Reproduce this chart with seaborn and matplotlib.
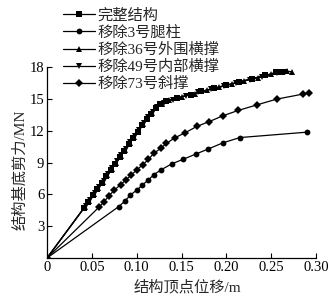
import matplotlib
matplotlib.use("Agg")
import matplotlib.pyplot as plt
import seaborn as sns
import pandas as pd

# ---- data ----
labels = ["完整结构", "移除3号腿柱", "移除36号外围横撑", "移除49号内部横撑", "移除73号斜撑"]

x_full = [0, 0.041, 0.046, 0.051, 0.056, 0.061, 0.066, 0.071, 0.076, 0.081, 0.086, 0.091,
          0.096, 0.101, 0.106, 0.111, 0.116, 0.121, 0.126, 0.133, 0.145, 0.160, 0.172,
          0.186, 0.200, 0.214, 0.228, 0.243, 0.255, 0.262]
y_full = [0, 4.7, 5.3, 5.9, 6.5, 7.1, 7.7, 8.3, 8.9, 9.5, 10.1, 10.7,
          11.3, 11.9, 12.5, 13.1, 13.6, 14.1, 14.5, 14.8, 15.1, 15.4, 15.7,
          16.0, 16.3, 16.6, 16.9, 17.2, 17.5, 17.55]

x_leg3 = [0, 0.080, 0.087, 0.093, 0.100, 0.106, 0.113, 0.119, 0.127, 0.139, 0.152,
          0.166, 0.180, 0.196, 0.215, 0.290]
y_leg3 = [0, 4.85, 5.38, 5.94, 6.4, 6.85, 7.36, 7.85, 8.3, 8.87, 9.31,
          9.8, 10.28, 10.85, 11.35, 11.86]

x_br36 = [0, 0.042, 0.047, 0.052, 0.057, 0.062, 0.067, 0.072, 0.077, 0.082, 0.087, 0.092,
          0.097, 0.102, 0.107, 0.112, 0.117, 0.122, 0.128, 0.136, 0.150, 0.165, 0.178,
          0.192, 0.206, 0.220, 0.235, 0.250, 0.262, 0.268, 0.273]
y_br36 = [0, 4.8, 5.4, 6.0, 6.6, 7.2, 7.8, 8.4, 9.0, 9.6, 10.2, 10.8,
          11.4, 12.0, 12.6, 13.2, 13.7, 14.15, 14.55, 14.85, 15.2, 15.5, 15.8,
          16.1, 16.4, 16.7, 17.0, 17.3, 17.55, 17.6, 17.55]

x_br49 = [0, 0.043, 0.048, 0.053, 0.058, 0.063, 0.068, 0.073, 0.078, 0.083, 0.088, 0.093,
          0.098, 0.103, 0.108, 0.113, 0.118, 0.123, 0.130, 0.140, 0.155, 0.168, 0.183,
          0.197, 0.211, 0.226, 0.240, 0.256, 0.265]
y_br49 = [0, 4.9, 5.5, 6.1, 6.7, 7.3, 7.9, 8.5, 9.1, 9.7, 10.3, 10.9,
          11.5, 12.1, 12.7, 13.3, 13.8, 14.2, 14.6, 14.9, 15.3, 15.6, 15.9,
          16.2, 16.5, 16.8, 17.1, 17.45, 17.5]

x_br73 = [0, 0.058, 0.063, 0.069, 0.075, 0.082, 0.088, 0.094, 0.100, 0.107, 0.113, 0.119,
          0.127, 0.133, 0.143, 0.154, 0.167, 0.181, 0.196, 0.213, 0.234, 0.256, 0.285, 0.292]
y_br73 = [0, 4.8, 5.25, 5.85, 6.4, 6.9, 7.36, 7.83, 8.3, 8.8, 9.3, 9.85,
          10.35, 10.8, 11.35, 11.8, 12.4, 12.86, 13.4, 13.9, 14.43, 14.97, 15.44, 15.54]

x_ticks = [0, 0.05, 0.10, 0.15, 0.20, 0.25, 0.30]
x_ticklabels = ["0", "0.05", "0.10", "0.15", "0.20", "0.25", "0.30"]
y_ticks = [3, 6, 9, 12, 15, 18]
y_ticklabels = ["3", "6", "9", "12", "15", "18"]

xlabel = "结构顶点位移/m"
ylabel = "结构基底剪力/MN"

series = [(x_full, y_full), (x_leg3, y_leg3), (x_br36, y_br36), (x_br49, y_br49), (x_br73, y_br73)]
markers = ["s", "o", "^", "v", "D"]

frames = []
for lab, (xs, ys) in zip(labels, series):
    frames.append(pd.DataFrame({"x": xs, "y": ys, "case": lab}))
df = pd.concat(frames, ignore_index=True)

sns.set_style("ticks")
fam = ["Liberation Serif", "Noto Sans CJK SC", "DejaVu Sans"]
plt.rcParams["font.family"] = fam

fig = plt.figure(figsize=(3.31, 2.99), dpi=100)
ax = fig.add_axes([0.142, 0.137, 0.813, 0.639])

sns.lineplot(data=df, x="x", y="y", hue="case", style="case", hue_order=labels,
             style_order=labels, markers=dict(zip(labels, markers)), dashes=False,
             palette=["black"] * 5, sort=False, estimator=None, linewidth=0.9,
             markersize=4.2, markeredgewidth=0, ax=ax, legend=True)

ax.set_xlim(0, 0.30)
ax.set_ylim(0, 18)
ax.set_xticks(x_ticks)
ax.set_xticklabels(x_ticklabels)
ax.set_yticks(y_ticks)
ax.set_yticklabels(y_ticklabels)
ax.tick_params(direction="in", length=3.5, width=0.8, labelsize=10.5, pad=2, colors="black")
for s in ["top", "right"]:
    ax.spines[s].set_visible(False)
for s in ["left", "bottom"]:
    ax.spines[s].set_linewidth(0.9)
    ax.spines[s].set_color("black")

ax.set_xlabel(xlabel, fontsize=11, va="top")
ax.set_ylabel(ylabel, fontsize=11, va="center")
ax.xaxis.set_label_coords(0.523, -0.115)
ax.yaxis.set_label_coords(-0.10, 0.46)

handles, labs = ax.get_legend_handles_labels()
ax.legend(handles, labs, loc="upper left", bbox_to_anchor=(0.19, 0.972),
          bbox_transform=fig.transFigure, frameon=False, fontsize=11,
          handlelength=2.1, handletextpad=0.15, labelspacing=0.2, borderpad=0,
          borderaxespad=0)

fig.savefig("out.png", dpi=100)
